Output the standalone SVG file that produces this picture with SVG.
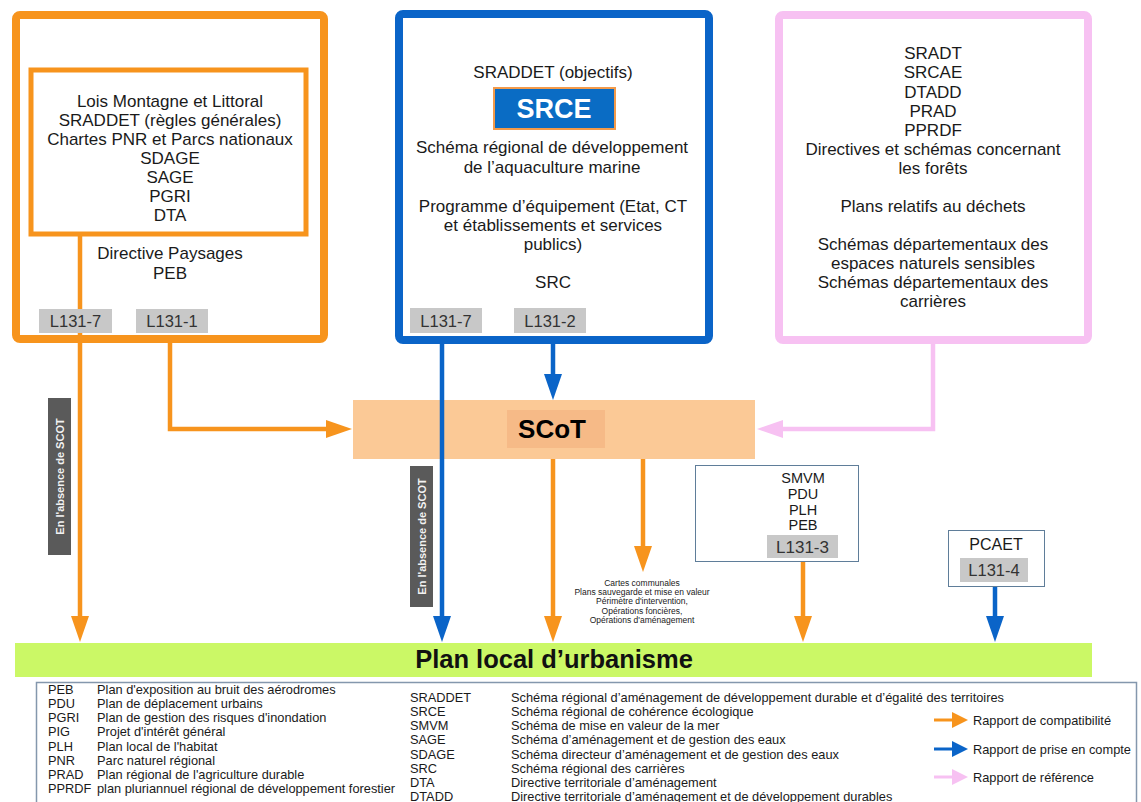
<svg xmlns="http://www.w3.org/2000/svg" width="1141" height="802" viewBox="0 0 1141 802">
<defs>
<style>
text{font-family:"Liberation Sans",Arial,sans-serif;fill:#1a1a1a}
.t16{font-size:17px;text-anchor:middle}
.lab{fill:#c8c8c8}
.labt{font-size:16.5px;text-anchor:middle;fill:#333}
.or{stroke:#f7941d;fill:none;stroke-width:4.5}
.bl{stroke:#0a64c8;fill:none;stroke-width:4.5}
.pk{stroke:#f7c1f2;fill:none;stroke-width:4.5}
.abs{fill:#5a5a5a}
.abst{font-size:11px;font-weight:bold;fill:#f2f2f2;text-anchor:middle}
.lg{font-size:12.8px;fill:#222}
.sm{font-size:8.5px;text-anchor:middle;fill:#222}
.s14{font-size:14.5px;text-anchor:middle}
</style>
<marker id="mo" markerUnits="userSpaceOnUse" markerWidth="26" markerHeight="18" refX="10" refY="9" orient="auto"><path d="M0,0 L26,9 L0,18 Z" fill="#f7941d"/></marker>
<marker id="mb" markerUnits="userSpaceOnUse" markerWidth="26" markerHeight="18" refX="10" refY="9" orient="auto"><path d="M0,0 L26,9 L0,18 Z" fill="#0a64c8"/></marker>
<marker id="mp" markerUnits="userSpaceOnUse" markerWidth="26" markerHeight="18" refX="10" refY="9" orient="auto"><path d="M0,0 L26,9 L0,18 Z" fill="#f7c1f2"/></marker>
</defs>
<rect width="1141" height="802" fill="#ffffff"/>

<g id="scot">
<rect x="353" y="400" width="402" height="59" fill="#fbc996"/>
<rect x="507" y="410" width="98" height="38" fill="#f6ba87"/>
<text x="552" y="438" style="font-size:26px;font-weight:bold;text-anchor:middle;fill:#000">SCoT</text>
</g>

<g id="connectors">
<path class="or" d="M80,234 V626" marker-end="url(#mo)"/>
<path class="or" d="M170,343 V429 H336" marker-end="url(#mo)"/>
<path class="bl" d="M442,344 V626" marker-end="url(#mb)"/>
<path class="bl" d="M553,344 V384" marker-end="url(#mb)"/>
<path class="pk" d="M933,344 V429 H773" marker-end="url(#mp)"/>
<path class="or" d="M553,459 V626" marker-end="url(#mo)"/>
<path class="or" d="M643,459 V556" marker-end="url(#mo)"/>
<path class="or" d="M803,562 V626" marker-end="url(#mo)"/>
<path class="bl" d="M995,587 V626" marker-end="url(#mb)"/>
<rect class="abs" x="48" y="398" width="23" height="157"/>
<text class="abst" transform="translate(63.5,476.5) rotate(-90)">En l'absence de SCOT</text>
<rect class="abs" x="410" y="466" width="23" height="141"/>
<text class="abst" transform="translate(425.5,536.5) rotate(-90)">En l'absence de SCOT</text>
<g class="sm">
<text x="642" y="586">Cartes communales</text>
<text x="642" y="595">Plans sauvegarde et mise en valeur</text>
<text x="642" y="604">Périmètre d'intervention,</text>
<text x="642" y="614">Opérations foncières,</text>
<text x="642" y="623">Opérations d'aménagement</text>
</g>
</g>

<g id="box-compat">
<rect x="16" y="15" width="308" height="324" rx="4" fill="none" stroke="#f7941d" stroke-width="8"/>
<rect x="31" y="70" width="275" height="164" fill="none" stroke="#f7941d" stroke-width="5"/>
<text class="t16" x="170" y="107">Lois Montagne et Littoral</text>
<text class="t16" x="170" y="126">SRADDET (règles générales)</text>
<text class="t16" x="170" y="145">Chartes PNR et Parcs nationaux</text>
<text class="t16" x="170" y="164">SDAGE</text>
<text class="t16" x="170" y="183">SAGE</text>
<text class="t16" x="170" y="202">PGRI</text>
<text class="t16" x="170" y="221">DTA</text>
<text class="t16" x="170" y="259">Directive Paysages</text>
<text class="t16" x="170" y="279">PEB</text>
<rect class="lab" x="39" y="309" width="73" height="24"/>
<text class="labt" x="75.5" y="327">L131-7</text>
<rect class="lab" x="136" y="309" width="72" height="24"/>
<text class="labt" x="172" y="327">L131-1</text>
</g>

<g id="box-prise">
<rect x="399" y="14" width="310" height="326" rx="4" fill="none" stroke="#0a64c8" stroke-width="8"/>
<text class="t16" x="553" y="78">SRADDET (objectifs)</text>
<rect x="494" y="88" width="121" height="41" fill="#0a6cc4" stroke="#f39a4a" stroke-width="2"/>
<text x="554" y="118" style="font-size:27px;font-weight:bold;text-anchor:middle;fill:#fff">SRCE</text>
<text class="t16" x="552" y="153">Schéma régional de développement</text>
<text class="t16" x="552" y="173">de l’aquaculture marine</text>
<text class="t16" x="553" y="212">Programme d’équipement (Etat, CT</text>
<text class="t16" x="553" y="231">et établissements et services</text>
<text class="t16" x="553" y="250">publics)</text>
<text class="t16" x="553" y="288">SRC</text>
<rect class="lab" x="410" y="308" width="72" height="25"/>
<text class="labt" x="446" y="327">L131-7</text>
<rect class="lab" x="514" y="308" width="72" height="25"/>
<text class="labt" x="550" y="327">L131-2</text>
</g>

<g id="box-reference">
<rect x="779" y="15" width="309" height="325" rx="4" fill="none" stroke="#f7c1f2" stroke-width="8"/>
<text class="t16" x="933" y="59">SRADT</text>
<text class="t16" x="933" y="78">SRCAE</text>
<text class="t16" x="933" y="98">DTADD</text>
<text class="t16" x="933" y="117">PRAD</text>
<text class="t16" x="933" y="136">PPRDF</text>
<text class="t16" x="933" y="155">Directives et schémas concernant</text>
<text class="t16" x="933" y="174">les forêts</text>
<text class="t16" x="933" y="212">Plans relatifs au déchets</text>
<text class="t16" x="933" y="250">Schémas départementaux des</text>
<text class="t16" x="933" y="269">espaces naturels sensibles</text>
<text class="t16" x="933" y="288">Schémas départementaux des</text>
<text class="t16" x="933" y="307">carrières</text>
</g>

<g id="box-smvm">
<rect x="695.5" y="465.5" width="163" height="96" fill="#fff" stroke="#5f7d99" stroke-width="1"/>
<text class="s14" x="803" y="483">SMVM</text>
<text class="s14" x="803" y="499">PDU</text>
<text class="s14" x="803" y="515">PLH</text>
<text class="s14" x="803" y="530">PEB</text>
<rect class="lab" x="767" y="535" width="71" height="23"/>
<text x="802.5" y="553" style="font-size:17px;text-anchor:middle;fill:#333">L131-3</text>
</g>

<g id="box-pcaet">
<rect x="948.5" y="530.5" width="96" height="56" fill="#fff" stroke="#5f7d99" stroke-width="1"/>
<text x="996" y="550" style="font-size:16px;text-anchor:middle">PCAET</text>
<rect class="lab" x="960" y="558" width="68" height="24"/>
<text class="labt" x="994" y="576">L131-4</text>
</g>

<g id="plu">
<rect x="15" y="643" width="1077" height="34" fill="#cbf866"/>
<text x="554" y="668" style="font-size:25.5px;font-weight:bold;text-anchor:middle;fill:#111">Plan local d’urbanisme</text>
</g>

<g id="legend">
<rect x="36.5" y="682.5" width="1100" height="130" fill="none" stroke="#8497ad" stroke-width="1.5"/>
<g class="lg">
<text x="48" y="694">PEB</text><text x="97" y="694">Plan d'exposition au bruit des aérodromes</text>
<text x="48" y="708">PDU</text><text x="97" y="708">Plan de déplacement urbains</text>
<text x="48" y="722">PGRI</text><text x="97" y="722">Plan de gestion des risques d'inondation</text>
<text x="48" y="736">PIG</text><text x="97" y="736">Projet d'intérêt général</text>
<text x="48" y="751">PLH</text><text x="97" y="751">Plan local de l'habitat</text>
<text x="48" y="765">PNR</text><text x="97" y="765">Parc naturel régional</text>
<text x="48" y="779">PRAD</text><text x="97" y="779">Plan régional de l'agriculture durable</text>
<text x="48" y="793">PPRDF</text><text x="97" y="793">plan pluriannuel régional de développement forestier</text>
<text x="410" y="702">SRADDET</text><text x="511" y="702">Schéma régional d’aménagement de développement durable et d’égalité des territoires</text>
<text x="410" y="716">SRCE</text><text x="511" y="716">Schéma régional de cohérence écologique</text>
<text x="410" y="730">SMVM</text><text x="511" y="730">Schéma de mise en valeur de la mer</text>
<text x="410" y="744">SAGE</text><text x="511" y="744">Schéma d’aménagement et de gestion des eaux</text>
<text x="410" y="759">SDAGE</text><text x="511" y="759">Schéma directeur d’aménagement et de gestion des eaux</text>
<text x="410" y="773">SRC</text><text x="511" y="773">Schéma régional des carrières</text>
<text x="410" y="787">DTA</text><text x="511" y="787">Directive territoriale d’aménagement</text>
<text x="410" y="801">DTADD</text><text x="511" y="801">Directive territoriale d’aménagement et de développement durables</text>
<text x="973" y="725">Rapport de compatibilité</text>
<text x="973" y="754">Rapport de prise en compte</text>
<text x="973" y="782">Rapport de référence</text>
</g>
<path d="M934,720 H954" stroke="#f7941d" stroke-width="3"/><path d="M952,712 L968,720 L952,728 Z" fill="#f7941d"/>
<path d="M934,749 H954" stroke="#0a64c8" stroke-width="3"/><path d="M952,741 L968,749 L952,757 Z" fill="#0a64c8"/>
<path d="M934,777 H954" stroke="#f7c1f2" stroke-width="3"/><path d="M952,769 L968,777 L952,785 Z" fill="#f7c1f2"/>
</g>
</svg>
